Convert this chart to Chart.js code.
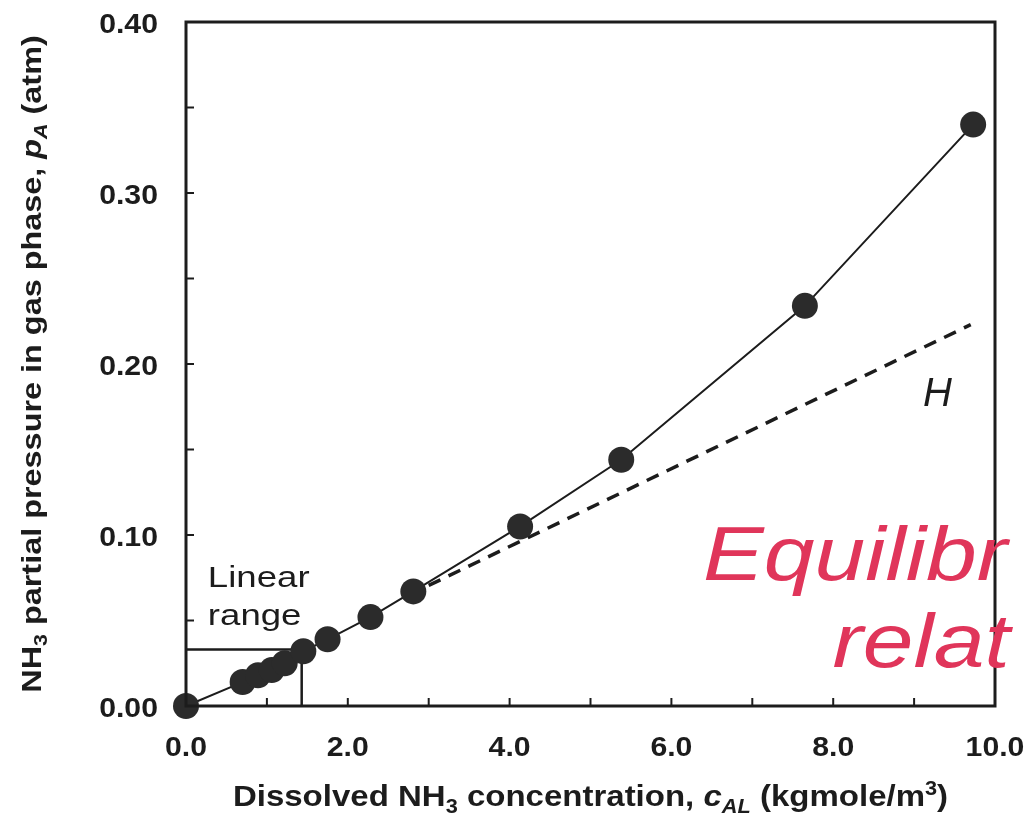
<!DOCTYPE html>
<html>
<head>
<meta charset="utf-8">
<script src="https://cdn.jsdelivr.net/npm/chart.js@4.4.1/dist/chart.umd.min.js"></script>
<style>
  html, body { margin: 0; padding: 0; background: #fff; }
  #wrap { width: 1030px; height: 818px; }
</style>
</head>
<body>
<div id="wrap"><canvas id="nh3_chart" width="1030" height="818"></canvas></div>
<script>
// measured equilibrium data (NH3 in water)
const concAL = [0, 0.70, 0.89, 1.06, 1.22, 1.45, 1.75, 2.28, 2.81, 4.13, 5.38, 7.65, 9.73];
const pressA = [0, 0.014, 0.018, 0.021, 0.025, 0.032, 0.039, 0.052, 0.067, 0.105, 0.144, 0.234, 0.340];

// Henry's law line (dashed), linear part extended
const henryX = [3.0, 9.7];
const henryY = [0.0705, 0.223];

// "linear range" box
const linRangeX = [0, 1.43, 1.43];
const linRangeY = [0.033, 0.033, 0];

// axis ticks and labels
const xTicks = [0, 1, 2, 3, 4, 5, 6, 7, 8, 9, 10];
const yTicks = [0, 0.05, 0.10, 0.15, 0.20, 0.25, 0.30, 0.35, 0.40];
const xLabels = [0, 2, 4, 6, 8, 10];
const yLabels = [0, 0.10, 0.20, 0.30, 0.40];

const FONT = "'Liberation Sans', Arial, sans-serif";
const INK = '#1c1c1c';

const toPts = (xs, ys) => xs.map((x, i) => ({x: x, y: ys[i]}));

const drawRich = (ctx, parts, size) => {
    /*
        draws a text made of parts (sub/superscripts, italics) centered at 0,0
    */
    let total = 0;
    const fontOf = (p) => (p.it ? 'italic ' : '') + 'bold ' + ((p.sub || p.sup) ? size * 0.66 : size) + 'px ' + FONT;
    parts.forEach((p) => {
        ctx.font = fontOf(p);
        p.w = ctx.measureText(p.t).width;
        total += p.w;
    });
    let x = -total / 2;
    parts.forEach((p) => {
        ctx.font = fontOf(p);
        let dy = 0;
        if (p.sub) dy = size * 0.22;
        if (p.sup) dy = -size * 0.36;
        ctx.fillText(p.t, x, dy);
        x += p.w;
    });
};

const stretchText = (ctx, text, x, y, sx) => {
    //draws text stretched horizontally around its anchor
    ctx.save();
    ctx.translate(x, y);
    ctx.scale(sx, 1);
    ctx.fillText(text, 0, 0);
    ctx.restore();
};

const framePlugin = {
    id: 'frame',
    afterDraw: (chart) => {
        const ctx = chart.ctx;
        const a = chart.chartArea;
        const xs = chart.scales.x, ys = chart.scales.y;
        ctx.save();
        ctx.strokeStyle = INK;
        ctx.fillStyle = INK;
        //box around the plot
        ctx.lineWidth = 3;
        ctx.strokeRect(a.left, a.top, a.right - a.left, a.bottom - a.top);
        //inward ticks on bottom and left axes
        ctx.lineWidth = 2;
        xTicks.forEach((v) => {
            const px = xs.getPixelForValue(v);
            ctx.beginPath(); ctx.moveTo(px, a.bottom); ctx.lineTo(px, a.bottom - 8); ctx.stroke();
        });
        yTicks.forEach((v) => {
            const py = ys.getPixelForValue(v);
            ctx.beginPath(); ctx.moveTo(a.left, py); ctx.lineTo(a.left + 8, py); ctx.stroke();
        });

        //tick labels
        ctx.font = 'bold 27px ' + FONT;
        ctx.textBaseline = 'alphabetic';
        ctx.textAlign = 'center';
        xLabels.forEach((v) => {
            stretchText(ctx, v.toFixed(1), xs.getPixelForValue(v), a.bottom + 50, 1.12);
        });
        ctx.textAlign = 'right';
        yLabels.forEach((v) => {
            stretchText(ctx, v.toFixed(2), a.left - 28, ys.getPixelForValue(v) + 11, 1.12);
        });

        //x axis title
        ctx.textAlign = 'left';
        ctx.save();
        ctx.translate((a.left + a.right) / 2, 806);
        ctx.scale(1.1, 1);
        drawRich(ctx, [
            {t: 'Dissolved NH'}, {t: '3', sub: true}, {t: ' concentration, '},
            {t: 'c', it: true}, {t: 'AL', sub: true, it: true}, {t: ' (kgmole/m'},
            {t: '3', sup: true}, {t: ')'}
        ], 30);
        ctx.restore();
        //y axis title
        ctx.save();
        ctx.translate(41, (a.top + a.bottom) / 2);
        ctx.rotate(-Math.PI / 2);
        ctx.scale(1.2, 1);
        drawRich(ctx, [
            {t: 'NH'}, {t: '3', sub: true}, {t: ' partial pressure in gas phase, '},
            {t: 'p', it: true}, {t: 'A', sub: true, it: true}, {t: ' (atm)'}
        ], 27);
        ctx.restore();

        //labels inside the plot
        ctx.font = '30px ' + FONT;
        stretchText(ctx, 'Linear', xs.getPixelForValue(0.27), ys.getPixelForValue(0.0696), 1.22);
        stretchText(ctx, 'range', xs.getPixelForValue(0.27), ys.getPixelForValue(0.0474), 1.22);
        ctx.font = 'italic 40px ' + FONT;
        ctx.fillText('H', xs.getPixelForValue(9.11), ys.getPixelForValue(0.1754));

        //handwritten note in red
        ctx.fillStyle = '#e0355a';
        ctx.font = 'italic 76px ' + FONT;
        stretchText(ctx, 'Equilibr', xs.getPixelForValue(6.39), ys.getPixelForValue(0.0737), 1.2);
        stretchText(ctx, 'relat', xs.getPixelForValue(7.99), ys.getPixelForValue(0.0228), 1.2);
        ctx.restore();
    }
};

new Chart('nh3_chart', {
    type: 'scatter',
    data: {
        datasets: [{
            //data with markers
            data: toPts(concAL, pressA),
            showLine: true,
            clip: false,
            borderColor: INK,
            borderWidth: 2,
            backgroundColor: '#2b2b2b',
            pointRadius: 13,
            pointHoverRadius: 13,
            pointBorderWidth: 0
        }, {
            //henry's law line
            data: toPts(henryX, henryY),
            showLine: true,
            borderColor: INK,
            borderWidth: 3.5,
            borderDash: [13, 9],
            pointRadius: 0
        }, {
            //linear range box
            data: toPts(linRangeX, linRangeY),
            showLine: true,
            borderColor: INK,
            borderWidth: 2.5,
            pointRadius: 0
        }]
    },
    options: {
        responsive: false,
        animation: false,
        layout: {padding: {left: 186, right: 35, top: 22, bottom: 112}},
        plugins: {
            legend: {display: false},
            tooltip: {enabled: false}
        },
        scales: {
            x: {type: 'linear', min: 0, max: 10, display: false},
            y: {type: 'linear', min: 0, max: 0.40, display: false}
        }
    },
    plugins: [framePlugin]
});
</script>
</body>
</html>
